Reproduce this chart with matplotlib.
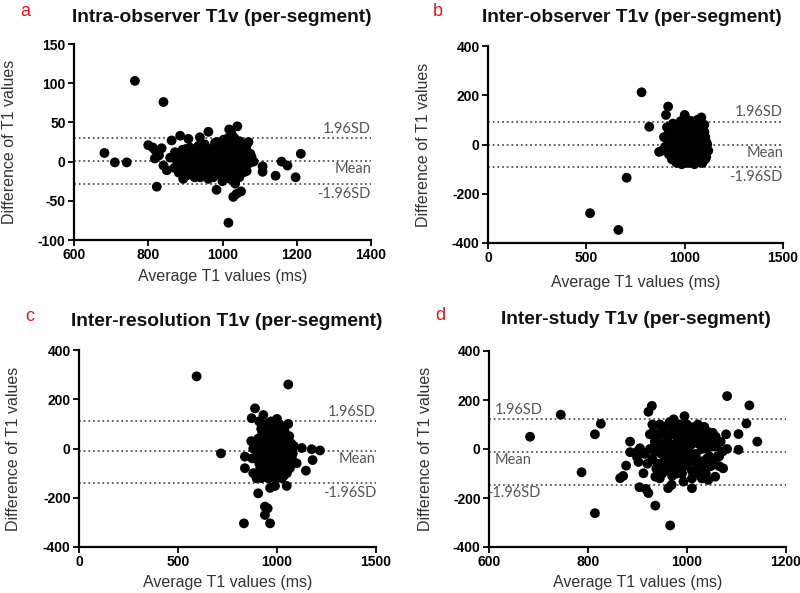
import matplotlib
matplotlib.use("Agg")
import matplotlib.pyplot as plt

# ---------------- data ----------------
titles = ["Intra-observer T1v (per-segment)", "Inter-observer T1v (per-segment)",
          "Inter-resolution T1v (per-segment)", "Inter-study T1v (per-segment)"]
panel_letters = ["a", "b", "c", "d"]
x_label = "Average T1 values (ms)"
y_label = "Difference of T1 values"

a_pts = [(764,103),(841,76),(682,11),(710,-1),(742,-1),(823,-32),(1016,-78),(1211,10),(1197,-20),
         (1143,-18),(1159,0),(1175,-5),(1108,-6),(1108,-13),(1040,45),(1018,41),(962,38),(984,-36),
         (1029,-45),(1038,-41),(1050,-38),(800,21),(818,15),(836,17),(863,27),(886,33),(908,29),
         (939,31),(818,4),(841,-5),(850,-11),(859,5),(894,-22),(1034,-28),(1070,25),(1075,10),
         (1084,0),(1018,26),(829,8),(812,18),
         (870,-8),(872,12),(878,0),(882,-14),(885,8),(888,-3),(892,15),(895,-10),(898,3),(902,-18),
         (905,10),(908,-5),(912,18),(915,0),(918,-12),(922,6),(925,-20),(928,12),(932,-4),(935,20),
         (938,-15),(942,2),(945,14),(948,-8),(952,22),(955,-18),(958,5),(962,-2),(965,16),(968,-12),
         (972,8),(975,-20),(978,0),(980,24),(983,-8),(986,12),(988,-15),(992,4),(995,20),(998,-10),
         (1000,8),(1003,28),(1005,-18),(1008,0),(1010,16),(1012,-6),(1015,30),(1018,-14),(1020,6),
         (1022,22),(1025,-4),(1028,14),(1030,-16),(1032,30),(1035,2),(1038,20),(1040,-10),(1043,10),
         (1046,26),(1048,-2),(1052,14),(1055,-8),(1058,20),(1062,4),(1065,-12),(1068,12),(1072,-2),
         (1078,6),(950,-5),(960,10),(970,-8),(990,-2),(1000,-25),(1010,-20),(1020,-22),(985,25),
         (940,-20),(930,0),(920,-5),(1025,35),(1045,-20),(962,-22),(905,-12),
         (884,4),(890,-8),(896,10),(900,-2),(904,2),(910,-10),(914,8),(918,14),(922,-16),(926,4),
         (930,10),(934,-10),(938,8),(942,-6),(946,0),(950,12),(954,-12),(958,16),(962,4),(966,-6),
         (970,14),(974,-2),(976,8),(980,-14),(982,10),(986,-4),(990,14),(994,-16),(996,2),(1000,18),
         (1002,-10),(1006,6),(1010,-4),(1012,24),(1014,12),(1016,-10),(1020,18),(1024,-16),(1026,8),
         (1030,2),(1033,18),(1036,-8),(1040,14),(1042,24),(1044,-2),(1048,8),(1050,18),(1054,2),
         (1056,-14),(1060,12),(1064,20),(1066,-2),(956,-2),(944,-14),(934,4),(924,10),(916,-8),
         (978,-8),(1004,14),(1018,4),(1028,-10),(1038,4),(964,-14),(992,-10),(1008,-12),(912,-16),
         (900,16),(888,10),(1034,26),(1022,-10)]
a_x = [p[0] for p in a_pts]
a_y = [p[1] for p in a_pts]

b_pts = [(781,212),(820,72),(916,154),(905,120),(705,-135),(519,-279),(663,-347),(870,-30),(885,-25),
         (895,30),(900,-10),(910,70),(1085,110),(1070,100),(1120,-25),(1090,-75),(1100,50),(1000,120),
         (920,-40),(925,20),(930,60),(935,-60),(940,0),(945,40),(950,-20),(955,80),(960,-50),(965,10),
         (970,50),(975,-70),(980,-5),(985,30),(990,90),(995,-40),(1000,10),(1005,60),(1010,-60),
         (1015,-15),(1020,35),(1025,80),(1030,-30),(1035,5),(1040,50),(1045,-55),(1050,20),(1055,-10),
         (1060,70),(1065,-40),(1070,30),(1075,-20),(1080,60),(1085,0),(1090,-40),(1095,20),(1100,-10),
         (1105,30),(1110,-50),(930,-10),(945,-45),(960,30),(975,70),(990,-70),(1005,-30),(1020,-75),
         (1035,95),(1050,-80),(1065,100),(1080,-65),(940,85),(955,-70),(985,-80),(1015,100),(1045,90),
         (1075,85),(915,40),(1100,80),(1110,10),(965,-25),(1000,-50),(1030,40),(1060,-25),(990,50),(950,60),
         (915,0),(925,-30),(935,20),(945,10),(955,-40),(965,60),(975,-40),(985,60),(995,-10),(1005,30),
         (1015,50),(1025,-50),(1035,-35),(1045,-15),(1055,40),(1065,10),(1075,-50),(1085,40),(1095,-20),
         (1105,-30),(920,70),(940,-60),(960,-75),(980,95),(1000,85),(1020,0),(1040,-70),(1060,95),
         (1080,20),(1100,50),(1110,-20),(1115,0),(950,20),(970,-20),(990,20),(1010,-30),(1030,70),
         (1050,60),(1070,-70),(1090,80),(925,50),(935,-30),(1095,55),(1105,-60),(1000,-75),(1040,10),
         (960,0),(1080,-30),(1020,60),(1060,-60),(1000,-20),(980,-50),(1045,65)]
b_x = [p[0] for p in b_pts]
b_y = [p[1] for p in b_pts]

c_pts = [(594,293),(1057,260),(717,-20),(833,-304),(965,-304),(939,-236),(953,-243),(939,-270),(889,163),
         (872,123),(931,136),(1057,100),(838,-33),(838,-80),(905,-182),(1125,2),(1175,-3),(1217,-8),
         (1180,-47),(1146,-90),(1099,-60),(1049,-152),(990,-152),(965,-160),(897,-121),(870,30),(875,-40),
         (880,0),(880,-100),(960,-120),(1000,120),(1010,100),
         (900,-20),(905,40),(910,-60),(915,10),(920,80),(925,-90),(930,-30),(935,50),(940,-110),(945,0),
         (950,100),(955,-60),(960,30),(965,-20),(970,70),(975,-90),(980,10),(985,-40),(990,50),(995,-120),
         (1000,-10),(1005,80),(1010,-70),(1015,20),(1020,-30),(1025,60),(1030,-100),(1035,0),(1040,40),
         (1045,-60),(1050,10),(1055,-30),(1060,30),(1065,-80),(1070,-10),(1075,-40),(920,-120),(930,90),
         (945,-80),(960,-100),(975,90),(990,-70),(1005,20),(1020,90),(1035,-110),(1050,-100),(950,40),
         (970,-50),(985,90),(1000,60),(1015,-50),(1030,50),(1045,20),(1060,-50),(910,110),(1025,-120),
         (940,-10),(1000,-120),(1040,-20),(965,40),
         (912,-40),(918,30),(925,60),(928,-60),(935,-10),(938,20),(942,70),(948,-40),(952,-100),(955,10),
         (958,60),(962,-40),(968,-70),(972,30),(978,-60),(982,60),(988,-10),(992,-40),(995,90),(998,10),
         (1002,-40),(1008,40),(1012,-20),(1018,60),(1022,-60),(1028,10),(1032,-50),(1038,70),(1042,-40),
         (1048,50),(1052,-70),(1058,0),(1062,50),(1068,-50),(1072,20),(925,-10),(935,80),(950,-20),
         (965,80),(980,-90),(995,-90),(1010,0),(1025,-80),(1040,90),(955,-120),(1045,-90),(915,-80),
         (900,30),(905,-100),(1080,-20),(1085,10),(970,110),(1000,30),(1015,-80),(1030,30)]
c_x = [p[0] for p in c_pts]
c_y = [p[1] for p in c_pts]

d_pts = [(683,50),(745,140),(787,-95),(814,60),(826,103),(814,-262),(966,-312),(936,-231),(1081,216),
         (1126,178),(1120,104),(1142,30),(1104,61),(1104,-3),(1079,60),(1081,0),(1073,-79),(1057,-113),
         (1043,-126),(1054,22),(1043,66),(1052,66),(995,134),(973,121),(929,176),(922,152),(885,30),
         (885,-13),(877,-68),(865,-119),(871,-110),(904,-156),(917,-163),(922,-180),(962,-160),(969,-146),
         (1010,-160),(993,-133),(905,3),(902,-53),(899,-33),(912,-99),(936,-113),(1027,71),(930,100),
         (925,60),(900,-10),(1065,-30),(1030,-120),
         (940,-60),(945,20),(950,80),(955,-30),(960,40),(965,-90),(970,0),(975,60),(980,-40),(985,100),
         (990,10),(995,-70),(1000,50),(1005,-20),(1010,80),(1015,-50),(1020,30),(1025,-90),(1030,0),
         (1035,40),(1040,-40),(1045,20),(950,-100),(960,-10),(970,90),(980,30),(990,-100),(1000,-30),
         (1010,20),(1020,-80),(1030,60),(940,10),(955,60),(965,-50),(975,-80),(985,-10),(995,40),
         (1005,90),(1015,-100),(1025,20),(1035,-60),(930,-40),(935,30),(1045,-30),(1050,40),(960,95),
         (1000,100),(945,-120),(1010,-120),(980,70),(1020,70),(925,0),(1055,-60),(1060,10),
         (932,70),(938,-80),(942,50),(948,-20),(952,-60),(958,-80),(962,20),(968,60),(972,-30),(978,100),
         (982,-70),(988,50),(992,-50),(998,0),(1002,70),(1008,-50),(1012,50),(1018,-20),(1022,100),
         (1028,-50),(1032,30),(1038,-100),(1042,70),(1048,-70),(1052,10),(1058,50),(1062,-30),(1068,30),
         (1072,-10),(935,-10),(945,100),(955,0),(965,110),(975,20),(985,-50),(995,80),(1005,10),(1015,90),
         (1025,-60),(1035,90),(1045,50),(1000,-60),(990,-30),(970,-110),(1030,-90),(1040,0),(1055,20),
         (960,-50),(1010,-90),(980,-100),(920,-60),(915,-20),(945,-60),(1065,-70),(1050,-40)]
d_x = [p[0] for p in d_pts]
d_y = [p[1] for p in d_pts]

# limits of agreement: upper, mean, lower
a_lines = [30, 1, -28]
b_lines = [92, 0, -90]
c_lines = [112, -10, -139]
d_lines = [121, -11, -148]

a_xticks = [600, 800, 1000, 1200, 1400]
a_yticks = [-100, -50, 0, 50, 100, 150]
b_xticks = [0, 500, 1000, 1500]
b_yticks = [-400, -200, 0, 200, 400]
c_xticks = [0, 500, 1000, 1500]
c_yticks = [-400, -200, 0, 200, 400]
d_xticks = [600, 800, 1000, 1200]
d_yticks = [-400, -200, 0, 200, 400]
line_labels = ["1.96SD", "Mean", "-1.96SD"]

# ---------------- drawing ----------------
W, H = 800, 593
fig = plt.figure(figsize=(W / 100, H / 100), dpi=100)

def rect(l, r, t, b):
    return [l / W, 1 - b / H, (r - l) / W, (b - t) / H]

panels = [
    dict(x=a_x, y=a_y, lines=a_lines, xt=a_xticks, yt=a_yticks, box=(74, 371, 44, 240),
         title_xy=(222, 17), letter_xy=(25, 12), ylab_x=10, xlab_y=276, lab_side="right"),
    dict(x=b_x, y=b_y, lines=b_lines, xt=b_xticks, yt=b_yticks, box=(488, 783, 46, 243),
         title_xy=(632, 17), letter_xy=(438, 12), ylab_x=423, xlab_y=282, lab_side="right"),
    dict(x=c_x, y=c_y, lines=c_lines, xt=c_xticks, yt=c_yticks, box=(79, 376, 350, 547),
         title_xy=(227, 321), letter_xy=(30, 317), ylab_x=14, xlab_y=583, lab_side="right"),
    dict(x=d_x, y=d_y, lines=d_lines, xt=d_xticks, yt=d_yticks, box=(489, 786, 351, 547),
         title_xy=(636, 320), letter_xy=(440, 316), ylab_x=425, xlab_y=583, lab_side="left"),
]

tick_font = dict(family="Liberation Sans", weight="bold", size=10)
lab_col = "#555555"

for i, p in enumerate(panels):
    l, r, t, b = p["box"]
    ax = fig.add_axes(rect(l, r, t, b))
    ax.set_xlim(p["xt"][0], p["xt"][-1])
    ax.set_ylim(p["yt"][0], p["yt"][-1])
    for v in p["lines"]:
        ax.axhline(v, color="#555555", lw=1.3, ls=(0, (1, 1.6)), zorder=1, clip_on=False)
    ax.scatter(p["x"], p["y"], s=50, color="black", edgecolors="none", zorder=3, clip_on=False)
    ax.set_xticks(p["xt"])
    ax.set_yticks(p["yt"])
    ax.set_xticklabels([str(tk) for tk in p["xt"]], fontdict=tick_font)
    ax.set_yticklabels([str(tk) for tk in p["yt"]], fontdict=tick_font)
    ax.tick_params(direction="out", length=4, width=1.3, pad=2, colors="black")
    for s in ("top", "right"):
        ax.spines[s].set_visible(False)
    for s in ("left", "bottom"):
        ax.spines[s].set_linewidth(1.6)
    fig.text(p["ylab_x"] / W, 1 - ((t + b) / 2) / H, y_label, rotation=90, ha="center", va="center",
             family="Liberation Sans", size=11.5, color="#333333")
    fig.text(((l + r) / 2) / W, 1 - p["xlab_y"] / H, x_label, ha="center", va="center",
             family="Liberation Sans", size=11.5, color="#333333")

    up, mean, lo = p["lines"]
    span = p["yt"][-1] - p["yt"][0]
    off = span * 0.012
    xw = p["xt"][-1] - p["xt"][0]
    tkw = dict(family="Lato", size=10.5, color=lab_col)
    if p["lab_side"] == "right":
        xr = p["xt"][-1]
        ax.text(xr, up + off, line_labels[0], va="bottom", ha="right", **tkw)
        ax.text(xr, mean - off * 0.5, line_labels[1], va="top", ha="right", **tkw)
        ax.text(xr, lo - off * 1.5, line_labels[2], va="top", ha="right", **tkw)
    else:
        ax.text(p["xt"][0] + xw * 0.02, up + off, line_labels[0], va="bottom", ha="left", **tkw)
        ax.text(p["xt"][0] + xw * 0.02, mean - off * 0.5, line_labels[1], va="top", ha="left", **tkw)
        ax.text(p["xt"][0] - xw * 0.005, lo - off * 0.5, line_labels[2], va="top", ha="left", **tkw)

    tx, ty = p["title_xy"]
    fig.text(tx / W, 1 - ty / H, titles[i], ha="center", va="center",
             family="Liberation Sans", weight="bold", size=13.8, color="#111111")
    lx, ly = p["letter_xy"]
    fig.text(lx / W, 1 - ly / H, panel_letters[i], ha="center", va="center",
             family="Liberation Sans", size=13, color="#e8141c")

fig.savefig("out.png", dpi=100)
